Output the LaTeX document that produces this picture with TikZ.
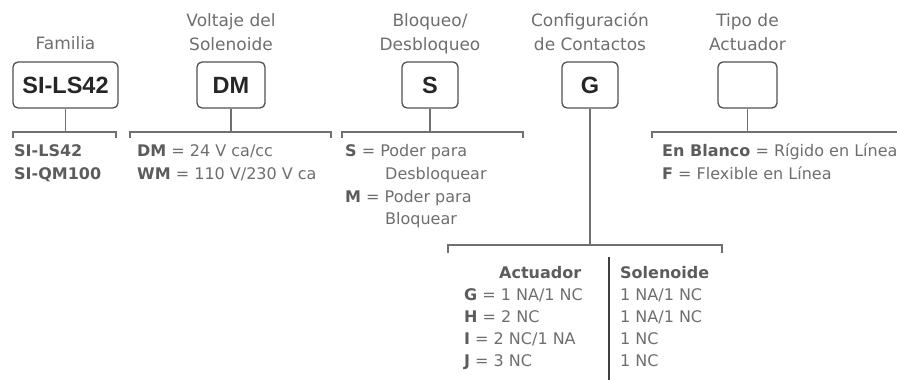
\documentclass[tikz,border=0pt]{standalone}
\usepackage{fontspec}
\setmainfont{DejaVu Sans}
\newfontfamily\codefont{Liberation Sans}
\usetikzlibrary{positioning}
\definecolor{ink}{HTML}{6E6E6E}
\definecolor{keyink}{HTML}{5C5C5C}
\definecolor{boxline}{HTML}{505050}
\definecolor{rule}{HTML}{707070}
\newcommand{\key}[1]{\textcolor{keyink}{\textbf{#1}}}

\tikzset{
  codebox/.style={draw=boxline, line width=1.3pt, rounded corners=5pt, minimum height=46pt,
    inner sep=0pt, text=black!85, font=\codefont\fontsize{23.5}{26}\selectfont\bfseries},
  title/.style={anchor=south, align=center, inner sep=0pt, text depth=0pt, text=ink,
    font=\fontsize{17}{24}\selectfont},
  item/.style={anchor=base west, inner sep=0pt, text=ink, font=\fontsize{16}{23}\selectfont},
  bracket/.style={draw=rule, line width=1.2pt},
}

\begin{document}
\begin{tikzpicture}[x=1pt,y=-1pt]
\useasboundingbox (0,0) rectangle (897,380);

\node[codebox, minimum width=105pt] (fam) at (65.5,85) {SI-LS42};
\node[codebox, minimum width=68pt] (volt) at (231,85) {DM};
\node[codebox, minimum width=56pt] (lock) at (430,85) {S};
\node[codebox, minimum width=56pt] (cont) at (590,85) {G};
\node[codebox, minimum width=59pt] (act) at (747.5,85) {};

\node[title] (famT) at (65.5,50) {Familia};
\node[title] (voltT) at (231,51) {Voltaje del\\Solenoide};
\node[title] (lockT) at (430,51) {Bloqueo/\\Desbloqueo};
\node[title] (contT) at (590,51) {Configuración\\de Contactos};
\node[title] (actT) at (747.5,51) {Tipo de\\Actuador};

\coordinate (famL) at (13,138);  \coordinate (famR) at (116,138);
\coordinate (voltL) at (130,138); \coordinate (voltR) at (331,138);
\coordinate (lockL) at (342,138); \coordinate (lockR) at (523,138);
\coordinate (actL) at (652,138);  \coordinate (actR) at (898,132);
\coordinate (contL) at (448,253); \coordinate (contR) at (722,253);

\draw[bracket] (famL) -- ++(0,-6) -| (famR);
\draw[bracket] (fam.south) -- (fam.south |- 0,132);
\draw[bracket] (voltL) -- ++(0,-6) -| (voltR);
\draw[bracket] (volt.south) -- (volt.south |- 0,132);
\draw[bracket] (lockL) -- ++(0,-6) -| (lockR);
\draw[bracket] (lock.south) -- (lock.south |- 0,132);
\draw[bracket] (actL) |- (actR);
\draw[bracket] (act.south) -- (act.south |- 0,132);
\draw[bracket] (contL) -- ++(0,-8) -| (contR);
\draw[bracket] (cont.south) -- (cont.south |- 0,245);

\node[item] (fam1) at (14,156) {\key{SI-LS42}};
\node[item] (fam2) at (14,179) {\key{SI-QM100}};

\node[item] (volt1) at (137,156) {\key{DM} = 24 V ca/cc};
\node[item] (volt2) at (137,179) {\key{WM} = 110 V/230 V ca};

\node[item] (lock1) at (345,156) {\key{S} = Poder para};
\node[item] (lock2) at (385,179) {Desbloquear};
\node[item] (lock3) at (345,202) {\key{M} = Poder para};
\node[item] (lock4) at (385,224) {Bloquear};

\node[item] (act1) at (662,156) {\key{En Blanco} = Rígido en Línea};
\node[item] (act2) at (662,179) {\key{F} = Flexible en Línea};

\node[item] (colA) at (499,278) {\key{Actuador}};
\node[item] (colS) at (620,278) {\key{Solenoide}};
\node[item] (g1) at (464,300) {\key{G} = 1 NA/1 NC};
\node[item] (h1) at (464,322) {\key{H} = 2 NC};
\node[item] (i1) at (464,344) {\key{I} = 2 NC/1 NA};
\node[item] (j1) at (464,366) {\key{J} = 3 NC};
\node[item] (g2) at (620,300) {1 NA/1 NC};
\node[item] (h2) at (620,322) {1 NA/1 NC};
\node[item] (i2) at (620,344) {1 NC};
\node[item] (j2) at (620,366) {1 NC};

\coordinate (divTop) at (609,257);
\coordinate (divBot) at (609,380);
\draw[draw=black!75, line width=1.3pt] (divTop) -- (divBot);
\end{tikzpicture}
\end{document}
